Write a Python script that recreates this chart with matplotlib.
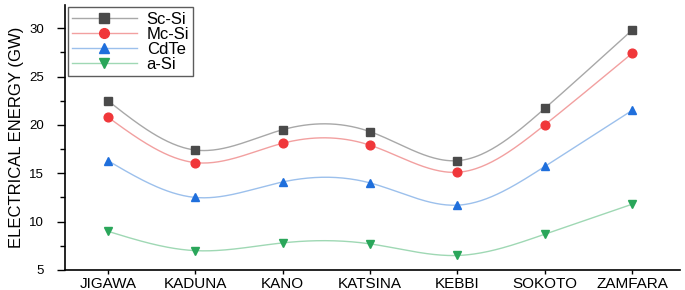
import numpy as np
from matplotlib import pyplot as plt
from matplotlib.ticker import MultipleLocator

estados = ['JIGAWA', 'KADUNA', 'KANO', 'KATSINA', 'KEBBI', 'SOKOTO', 'ZAMFARA']
sc_si = [22.5, 17.4, 19.5, 19.3, 16.3, 21.7, 29.8]
mc_si = [20.8, 16.1, 18.1, 17.9, 15.1, 20.0, 27.4]
cdte = [16.3, 12.5, 14.1, 14.0, 11.7, 15.7, 21.5]
a_si = [9.0, 7.0, 7.8, 7.7, 6.5, 8.7, 11.8]


# spline cubica natural (como no Origin)
def spline(x, y, n=300):
    x = np.asarray(x, float)
    y = np.asarray(y, float)
    k = len(x)
    h = np.diff(x)
    A = np.zeros((k, k))
    b = np.zeros(k)
    A[0, 0] = 1
    A[-1, -1] = 1
    for i in range(1, k - 1):
        A[i, i - 1] = h[i - 1]
        A[i, i] = 2 * (h[i - 1] + h[i])
        A[i, i + 1] = h[i]
        b[i] = 3 * ((y[i + 1] - y[i]) / h[i] - (y[i] - y[i - 1]) / h[i - 1])
    c = np.linalg.solve(A, b)
    xs = np.linspace(x[0], x[-1], n)
    ys = np.zeros_like(xs)
    for j, xv in enumerate(xs):
        i = min(np.searchsorted(x, xv, side='right') - 1, k - 2)
        dx = xv - x[i]
        bi = (y[i + 1] - y[i]) / h[i] - h[i] * (2 * c[i] + c[i + 1]) / 3
        di = (c[i + 1] - c[i]) / (3 * h[i])
        ys[j] = y[i] + bi * dx + c[i] * dx ** 2 + di * dx ** 3
    return xs, ys


plt.rcParams['font.family'] = ['Liberation Sans', 'DejaVu Sans']

fig = plt.figure(figsize=(6.85, 2.9), dpi=100)
ax = fig.add_axes([0.095, 0.069, 0.898, 0.914])

x = np.arange(len(estados))
series = [
    ('Sc-Si', sc_si, 's', '#4a4a4a', '#a8a8a8'),
    ('Mc-Si', mc_si, 'o', '#f0373a', '#f2a0a0'),
    ('CdTe', cdte, '^', '#1f6fdc', '#9cc0ec'),
    ('a-Si', a_si, 'v', '#2aa65a', '#9fd8b4'),
]
for nome, vals, mk, cor, cor_linha in series:
    xs, ys = spline(x, vals)
    ax.plot(xs, ys, color=cor_linha, lw=1)
    ax.plot(x, vals, ls='none', marker=mk, color=cor, ms=6.3, mec=cor)
    ax.plot([], [], color=cor_linha, lw=1, marker=mk, mfc=cor, mec=cor,
            ms=7, label=nome)

ax.set_xlim(-0.49, 6.55)
ax.set_ylim(5, 32.4)
ax.set_xticks(x)
ax.set_xticklabels(estados, fontsize=11)
ax.yaxis.set_major_locator(MultipleLocator(5))
ax.yaxis.set_minor_locator(MultipleLocator(2.5))
ax.tick_params(axis='y', which='major', labelsize=9.5, length=6, width=1, pad=9)
ax.tick_params(axis='y', which='minor', length=3.5, width=1)
ax.tick_params(axis='x', which='major', length=3, width=1, pad=2)
ax.tick_params(which='both', direction='out')
ax.spines['top'].set_visible(False)
ax.spines['right'].set_visible(False)
ax.spines['left'].set_linewidth(1.2)
ax.spines['bottom'].set_linewidth(1.2)
ax.set_ylabel('ELECTRICAL ENERGY (GW)', fontsize=12, labelpad=4)

leg = ax.legend(loc='upper left', fontsize=12, frameon=True, fancybox=False,
                edgecolor='#333333', borderaxespad=0.15, handlelength=3.9,
                labelspacing=0.0, borderpad=0.25, handletextpad=0.6)
leg.get_frame().set_linewidth(1)

plt.savefig('out.png', dpi=100)
